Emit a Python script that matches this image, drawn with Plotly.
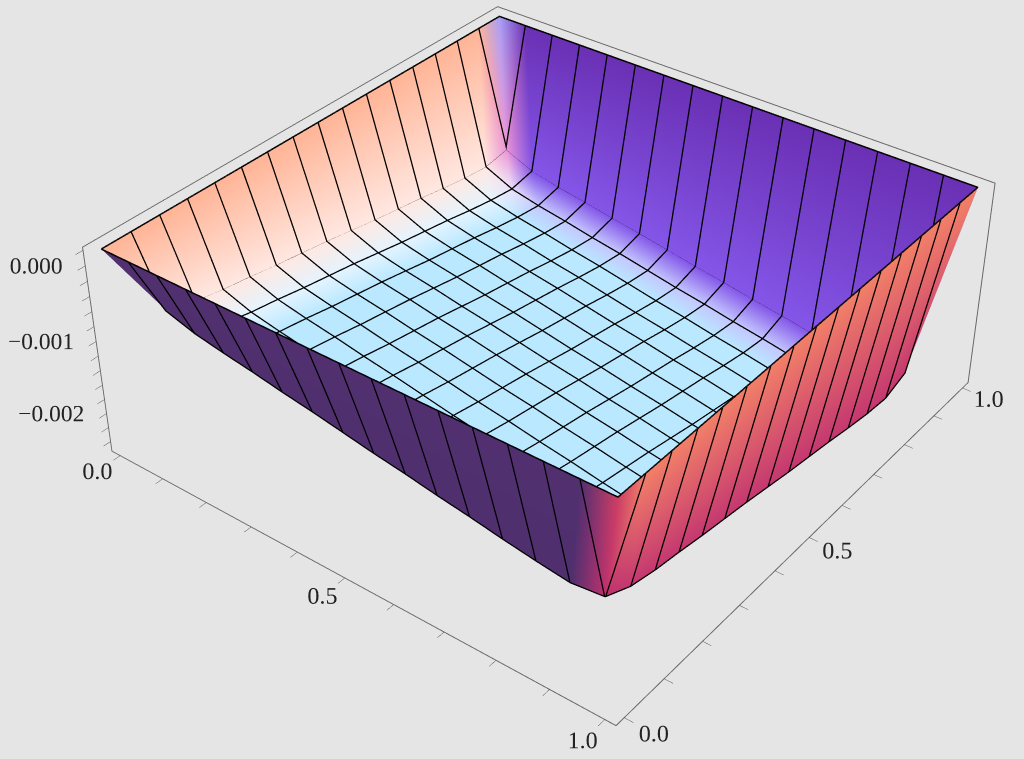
import plotly.graph_objects as go

grid = [k / 16 for k in range(17)]
rim_level = .0002
edge_factor = [0, .93, .99, 1, 1, 1, 1, 1, 1, 1, 1, 1, 1, 1, .99, .93, 0]
depth_x = [.00043, .00050, .00057, .00064, .00071, .00079, .00086, .00094, .00102, .00109, .00117, .00124, .00132, .00139, .00147, .00154, .00161]
depth_y = [.00043, .00049, .00055, .00062, .00068, .00075, .00081, .00087, .00094, .00101, .00107, .00113, .00120, .00126, .00132, .00137, .00142]

FLOOR = (185, 232, 255)
wall_x0 = [(255, 180, 150), (255, 232, 226), (228, 244, 255), FLOOR]
wall_y1 = [(106, 48, 180), (132, 86, 232), (196, 200, 255), FLOOR]
wall_y0 = [(82, 48, 112), (79, 47, 110), FLOOR, FLOOR]
wall_x1 = [(242, 128, 104), (196, 56, 112), FLOOR, FLOOR]
corner_colours = {(0, 16): (170, 160, 245), (1, 15): (235, 150, 215), (2, 14): (235, 225, 250),
                  (16, 0): (205, 62, 100), (15, 1): (190, 50, 110)}
n = len(grid)


def wall_options(i, j):
    return [(i, wall_x0), (n - 1 - i, wall_x1), (j, wall_y0), (n - 1 - j, wall_y1)]


def shared_colour(i, j):
    if (i, j) in corner_colours:
        return corner_colours[(i, j)]
    options = wall_options(i, j)
    dmin = min(o[0] for o in options)
    if dmin >= 3:
        return FLOOR
    picks = [w[dmin] for d, w in options if d == dmin]
    return tuple(sum(c[k] for c in picks) / len(picks) for k in range(3))


def triangle_colour(i, j, wall):
    if i == j:
        d = min(i, n - 1 - i)
        return wall[min(d, 3)]
    return shared_colour(i, j)


def rgb(c):
    return f"rgb({c[0]:.0f},{c[1]:.0f},{c[2]:.0f})"


def height(i, j):
    return rim_level - (depth_x[i] + depth_y[j]) * edge_factor[i] * edge_factor[j]


xs, ys, zs, vc, ti, tj, tk = [], [], [], [], [], [], []


def add_triangle(p, q, r):
    ci, cj = (p[0] + q[0] + r[0]) / 3, (p[1] + q[1] + r[1]) / 3
    wall = min(wall_options(ci, cj), key=lambda o: o[0])[1]
    base = len(xs)
    for (a, b) in (p, q, r):
        xs.append(grid[a]); ys.append(grid[b]); zs.append(height(a, b))
        vc.append(rgb(triangle_colour(a, b, wall)))
    ti.append(base); tj.append(base + 1); tk.append(base + 2)


for i in range(n - 1):
    for j in range(n - 1):
        a, b, c, d = (i, j), (i + 1, j), (i + 1, j + 1), (i, j + 1)
        if (i < 8) == (j < 8):
            add_triangle(a, b, c); add_triangle(a, c, d)
        else:
            add_triangle(a, b, d); add_triangle(b, c, d)

# interior mesh lines (rim drawn separately, thinner because it is not half-buried in the surface)
lx, ly, lz = [], [], []
for i in range(1, n - 1):
    for j in range(n):
        lx.append(grid[i]); ly.append(grid[j]); lz.append(height(i, j))
    lx.append(None); ly.append(None); lz.append(None)
for j in range(1, n - 1):
    for i in range(n):
        lx.append(grid[i]); ly.append(grid[j]); lz.append(height(i, j))
    lx.append(None); ly.append(None); lz.append(None)

rim_x = [grid[0], grid[-1], grid[-1], grid[0], grid[0]]
rim_y = [grid[0], grid[0], grid[-1], grid[-1], grid[0]]
rim_z = [rim_level] * 5

x_tickvals = [round(k / 10, 1) for k in range(11)]
x_ticktext = ["0.0", "", "", "", "", "0.5", "", "", "", "", "1.0"]
z_tickvals = [.0002, 0, -.0002, -.0004, -.0006, -.0008, -.001, -.0012, -.0014, -.0016, -.0018, -.002, -.0022, -.0024]
z_label_vals = [0, -.001, -.002]
z_label_text = ["0.000", "\u22120.001", "\u22120.002"]

font = dict(family="Liberation Serif", size=17, color="#222222")
ax = dict(showbackground=False, showgrid=False, zeroline=False, showline=True, mirror=True,
          linecolor="#666666", linewidth=2, ticks="outside", ticklen=8, tickcolor="#555555",
          tickwidth=1, tickfont=font, title=dict(text=""), showspikes=False, tickmode="array", tickangle=0)

W, H = 2462, 1825
fig = go.Figure()
fig.add_trace(go.Mesh3d(x=xs, y=ys, z=zs, i=ti, j=tj, k=tk, vertexcolor=vc, hoverinfo="skip",
                        lighting=dict(ambient=1, diffuse=0, specular=0, fresnel=0, roughness=1),
                        flatshading=False, showscale=False))
fig.add_trace(go.Scatter3d(x=lx, y=ly, z=lz, mode="lines", line=dict(color="#000000", width=5),
                           hoverinfo="skip", showlegend=False))
fig.add_trace(go.Scatter3d(x=rim_x, y=rim_y, z=rim_z, mode="lines", line=dict(color="#000000", width=3),
                           hoverinfo="skip", showlegend=False))
fig.add_trace(go.Scatter3d(x=[-.02] * 3, y=[-.02] * 3, z=z_label_vals, mode="text", text=z_label_text,
                           textposition="middle left",
                           textfont=dict(family="Liberation Serif", size=23.5, color="#222222"),
                           hoverinfo="skip", showlegend=False))
fig.update_layout(
    width=W, height=H, margin=dict(l=0, r=0, t=0, b=0), paper_bgcolor="#e5e5e5",
    showlegend=False,
    scene=dict(
        domain=dict(x=[0, 1], y=[0, 1]), bgcolor="#e5e5e5", aspectmode="manual",
        aspectratio=dict(x=1, y=1, z=.39),
        camera=dict(eye=dict(x=1.747, y=-2.277, z=2.0), center=dict(x=0, y=0, z=0), up=dict(x=0, y=0, z=1)),
        xaxis=dict(ax, range=[-.02, 1.02], tickvals=x_tickvals, ticktext=x_ticktext),
        yaxis=dict(ax, range=[-.02, 1.02], tickvals=x_tickvals, ticktext=x_ticktext),
        zaxis=dict(ax, range=[-.00254, .00024], tickvals=z_tickvals, ticktext=[""] * len(z_tickvals)),
    ),
)
post = f"""
document.documentElement.style.overflow='hidden';
document.body.style.margin='0';
document.body.style.overflow='hidden';
document.body.style.background='#e5e5e5';
var gd=document.getElementById('{{plot_id}}');
gd.style.position='fixed';
gd.style.left='{-(W - 1024) // 2 + 37}px';
gd.style.top='{-(H - 759) // 2 - 61}px';
"""
fig.write_html("out.html", post_script=post)
